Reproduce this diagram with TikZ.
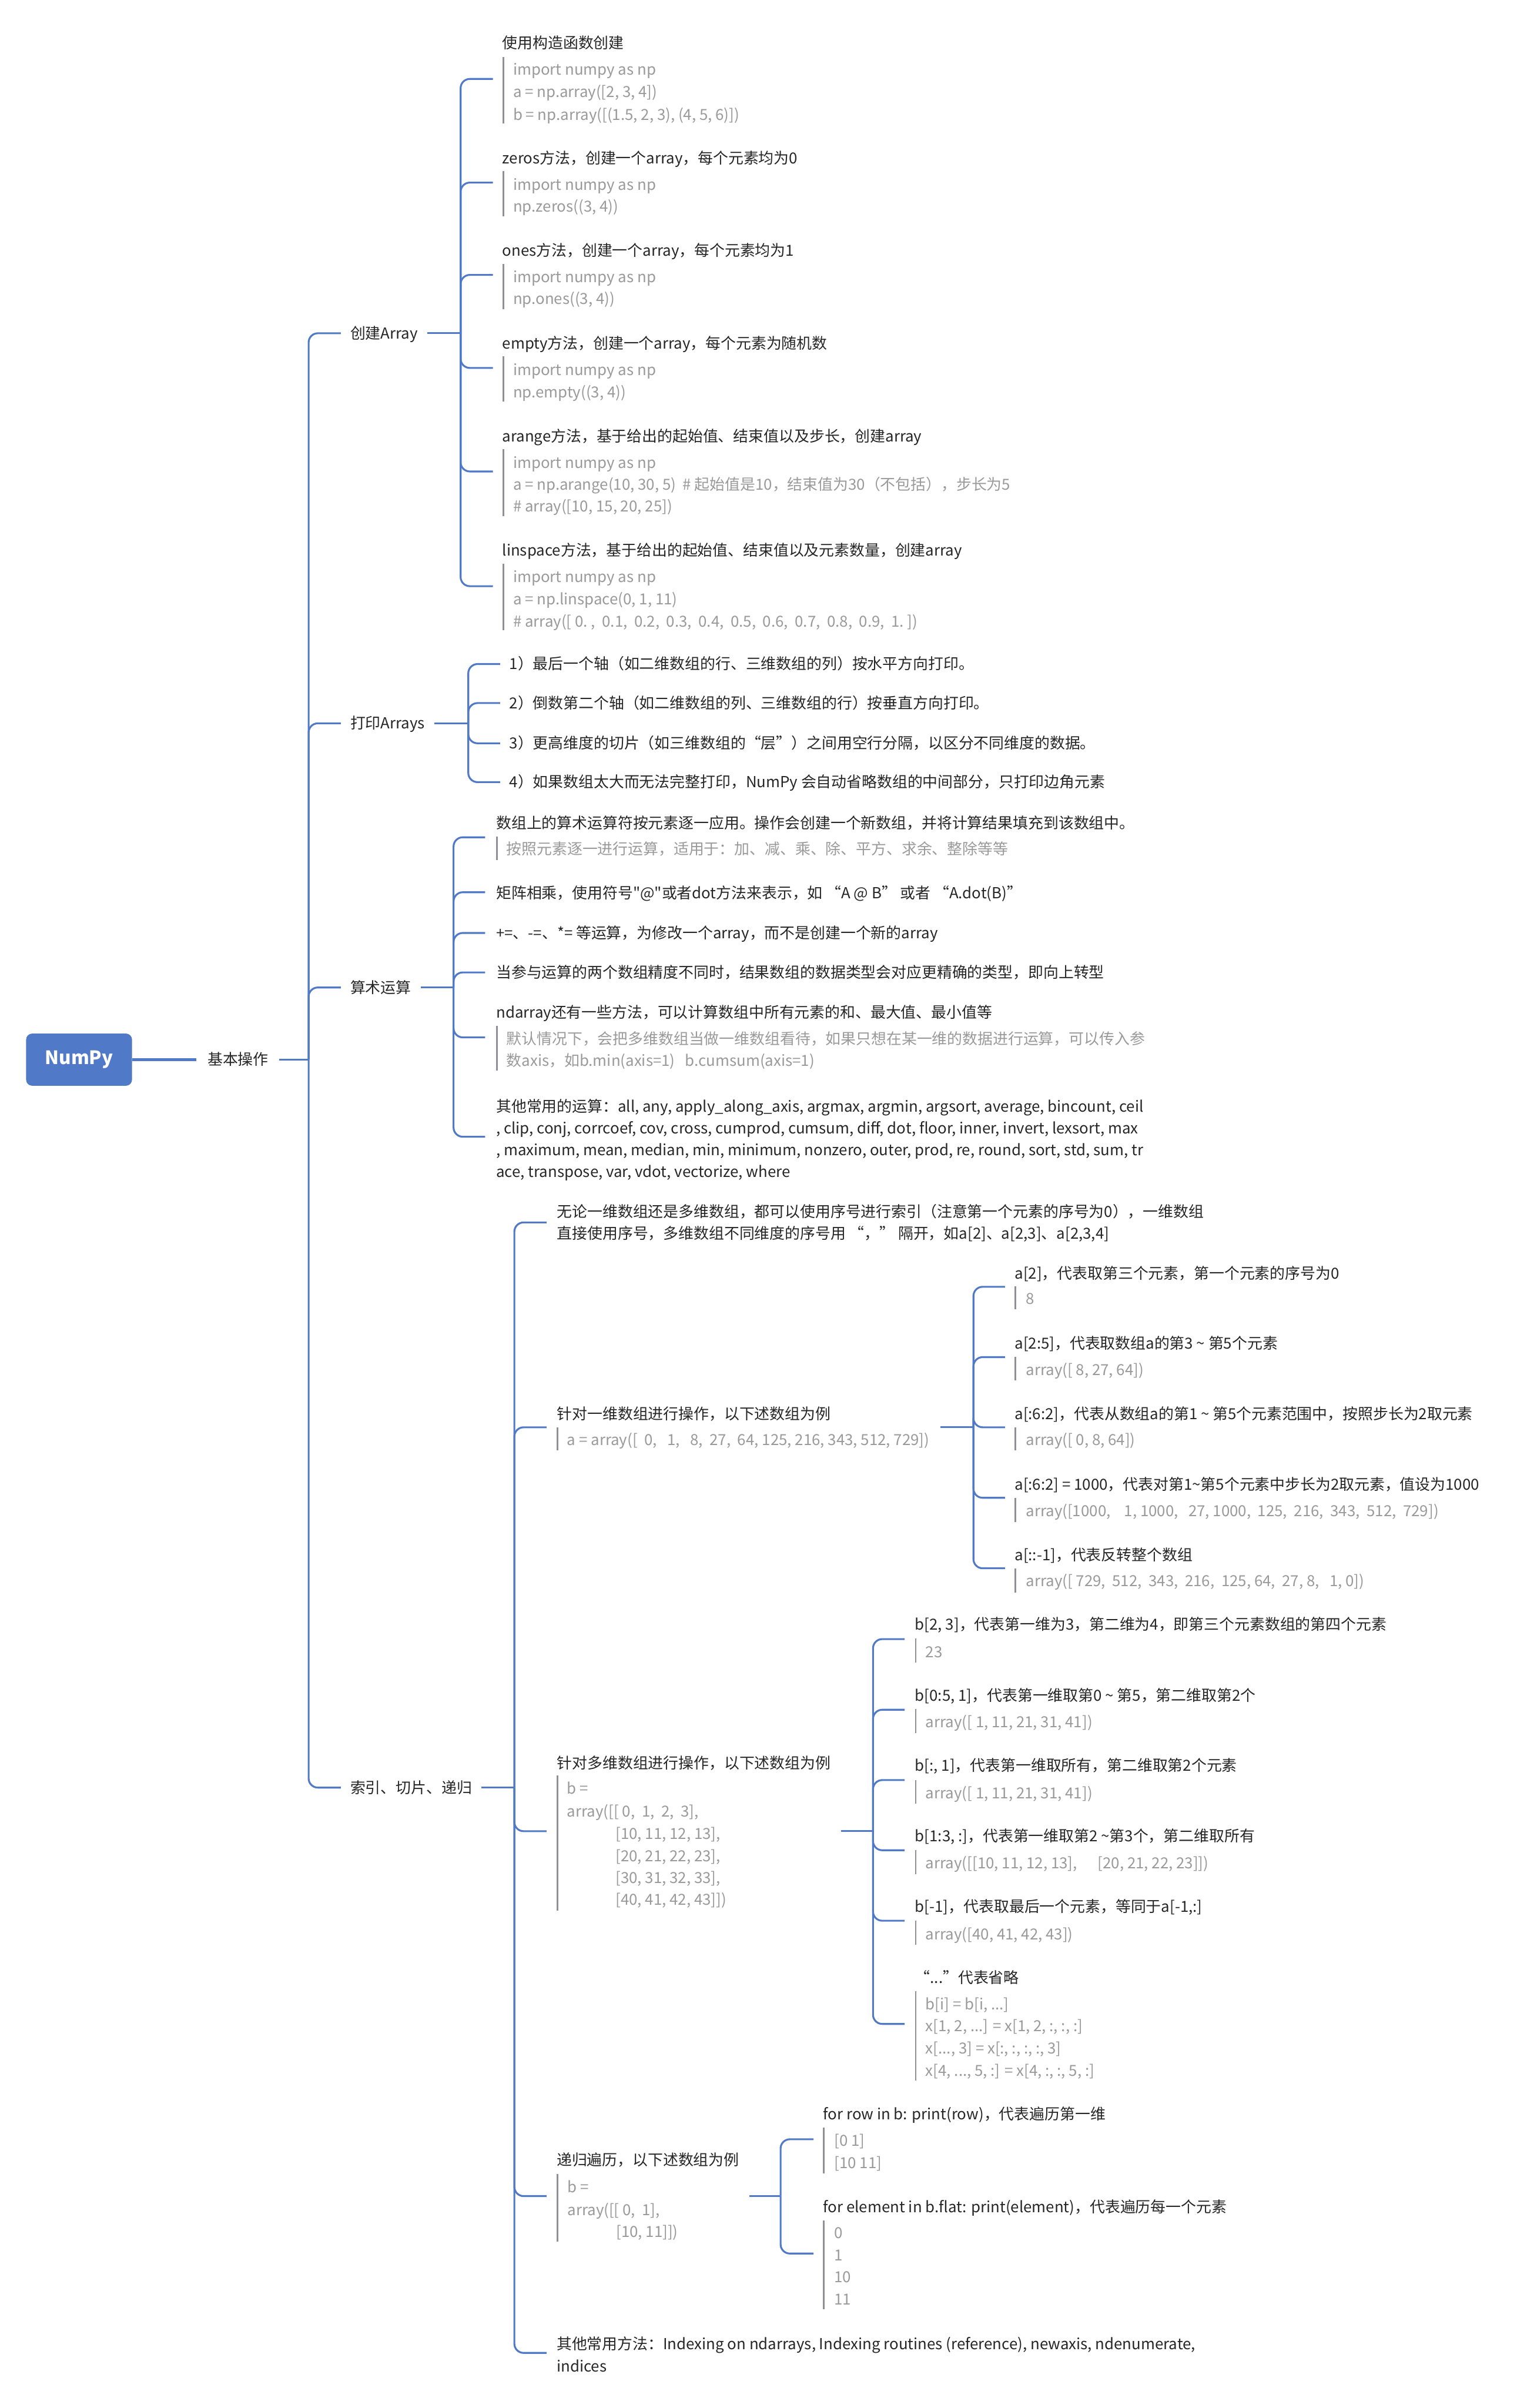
\documentclass[tikz,border=0pt]{standalone}
\usepackage{fontspec}
\newfontfamily\cjkf{Noto Sans CJK SC}
\usetikzlibrary{calc}
\definecolor{bl}{HTML}{5079C8}
\definecolor{tx}{HTML}{262626}
\definecolor{gy}{HTML}{9A9A9A}
\definecolor{vbc}{HTML}{8F9096}
\newcommand\mt[4]{\node[mtext] (#1) at (#2,#3+3.6) {#4};}
\newcommand\gt[4]{\node[gtext] (#1) at (#2,#3+3.6) {#4};}
\newcommand\vb[3]{\draw[vbar] (#1,#2) -- (#1,#3);}
\newcommand\stub[4]{\coordinate (#2) at (#3,#4); \draw[br] (#1) |- (#2);}
\begin{document}
\begin{tikzpicture}[x=1pt,y=-1pt,
  mtext/.style={font=\cjkf\fontsize{9.9pt}{12pt}\selectfont, text=tx, inner sep=0pt, anchor=base west},
  gtext/.style={mtext, text=gy},
  br/.style={draw=bl, line width=1.2pt, rounded corners=6pt},
  rootl/.style={draw=bl, line width=1.7pt},
  vbar/.style={draw=vbc, line width=1pt}]
\useasboundingbox (0,0) rectangle (988,1568);
\fill[white] (0,0) rectangle (988,1568);

% root
\node[fill=bl, rounded corners=4pt, minimum width=69pt, minimum height=34pt, inner sep=0pt, text=white,
  font=\cjkf\fontsize{12pt}{14pt}\selectfont\bfseries] (numpy) at (51.5,690) {NumPy};
\mt{basic}{135}{690}{基本操作}
\draw[rootl] (numpy.east) -- ($(basic.base west)+(-7,-3.6)$);
\coordinate (T1) at (201,690);
\draw[br] ($(basic.base east)+(7,-3.6)$) -- (T1);

\mt{create}{228}{217}{创建Array}
\mt{print}{228}{471}{打印Arrays}
\mt{arith}{228}{643}{算术运算}
\mt{index}{228}{1164}{索引、切片、递归}
\draw[br] (T1) |- ($(create.base west)+(-6,-3.6)$);
\draw[br] (T1) |- ($(print.base west)+(-6,-3.6)$);
\draw[br] (T1) |- ($(arith.base west)+(-6,-3.6)$);
\draw[br] (T1) |- ($(index.base west)+(-6,-3.6)$);

% ---------- section 1
\coordinate (T2) at (300,217);
\draw[br] ($(create.base east)+(6,-3.6)$) -- (T2);
\stub{T2}{c11}{321}{51.4}
\mt{h11}{327}{28}{使用构造函数创建}
\vb{327.8}{37}{80.5}
\gt{g11a}{334}{45.3}{import numpy as np}
\gt{g11b}{334}{59.9}{a = np.array([2, 3, 4])}
\gt{g11c}{334}{74.5}{b = np.array([(1.5, 2, 3), (4, 5, 6)])}

\stub{T2}{c12}{321}{118.9}
\mt{h12}{327}{103.1}{zeros方法，创建一个array，每个元素均为0}
\vb{327.8}{111.3}{141}
\gt{g12a}{334}{120.2}{import numpy as np}
\gt{g12b}{334}{134.4}{np.zeros((3, 4))}

\stub{T2}{c13}{321}{179}
\mt{h13}{327}{163.3}{ones方法，创建一个array，每个元素均为1}
\vb{327.8}{171.7}{201.4}
\gt{g13a}{334}{180.5}{import numpy as np}
\gt{g13b}{334}{194.6}{np.ones((3, 4))}

\stub{T2}{c14}{321}{239.6}
\mt{h14}{327}{223.6}{empty方法，创建一个array，每个元素为随机数}
\vb{327.8}{232}{261.5}
\gt{g14a}{334}{241}{import numpy as np}
\gt{g14b}{334}{255.2}{np.empty((3, 4))}

\stub{T2}{c15}{321}{307}
\mt{h15}{327}{284}{arange方法，基于给出的起始值、结束值以及步长，创建array}
\vb{327.8}{292.5}{336}
\gt{g15a}{334}{301.4}{import numpy as np}
\gt{g15b}{334}{315.6}{a = np.arange(10, 30, 5)~~\# 起始值是10，结束值为30（不包括），步长为5}
\gt{g15c}{334}{329.8}{\# array([10, 15, 20, 25])}

\stub{T2}{c16}{321}{381.7}
\mt{h16}{327}{358.5}{linspace方法，基于给出的起始值、结束值以及元素数量，创建array}
\vb{327.8}{367}{410.5}
\gt{g16a}{334}{375.7}{import numpy as np}
\gt{g16b}{334}{390}{a = np.linspace(0, 1, 11)}
\gt{g16c}{334}{404.5}{\# array([~0.~,~~0.1,~~0.2,~~0.3,~~0.4,~~0.5,~~0.6,~~0.7,~~0.8,~~0.9,~~1.~])}

% ---------- section 2
\coordinate (T3) at (305,471);
\draw[br] ($(print.base east)+(6,-3.6)$) -- (T3);
\stub{T3}{c21}{325.7}{432.4}
\mt{p1}{331.6}{432.4}{1）最后一个轴（如二维数组的行、三维数组的列）按水平方向打印。}
\stub{T3}{c22}{325.7}{457.8}
\mt{p2}{331.6}{457.8}{2）倒数第二个轴（如二维数组的列、三维数组的行）按垂直方向打印。}
\stub{T3}{c23}{325.7}{484}
\mt{p3}{331.6}{484}{3）更高维度的切片（如三维数组的“层”）之间用空行分隔，以区分不同维度的数据。}
\stub{T3}{c24}{325.7}{509.3}
\mt{p4}{331.6}{509.3}{4）如果数组太大而无法完整打印，NumPy 会自动省略数组的中间部分，只打印边角元素}

% ---------- section 3
\coordinate (T4) at (295.4,643);
\draw[br] ($(arith.base east)+(6,-3.6)$) -- (T4);
\stub{T4}{c31}{316}{545.2}
\mt{h31}{323}{536}{数组上的算术运算符按元素逐一应用。操作会创建一个新数组，并将计算结果填充到该数组中。}
\vb{323.6}{544.7}{560}
\gt{g31}{329.7}{553}{按照元素逐一进行运算，适用于：加、减、乘、除、平方、求余、整除等等}
\stub{T4}{c32}{316}{581}
\mt{h32}{323}{581.7}{矩阵相乘，使用符号"@"或者dot方法来表示，如 “A @ B” 或者 “A.dot(B)”}
\stub{T4}{c33}{316}{607.5}
\mt{h33}{323}{607.7}{+=、-=、*= 等运算，为修改一个array，而不是创建一个新的array}
\stub{T4}{c34}{316}{633.2}
\mt{h34}{323}{633.2}{当参与运算的两个数组精度不同时，结果数组的数据类型会对应更精确的类型，即向上转型}
\stub{T4}{c35}{316}{675.5}
\mt{h35}{323}{659.2}{ndarray还有一些方法，可以计算数组中所有元素的和、最大值、最小值等}
\vb{323.6}{668}{697}
\gt{g35a}{329.7}{676.4}{默认情况下，会把多维数组当做一维数组看待，如果只想在某一维的数据进行运算，可以传入参}
\gt{g35b}{329.7}{690.6}{数axis，如b.min(axis=1)~~~b.cumsum(axis=1)}
\stub{T4}{c36}{316}{740.2}
\mt{h36a}{323}{720.3}{其他常用的运算：all, any, apply\_along\_axis, argmax, argmin, argsort, average, bincount, ceil}
\mt{h36b}{323}{734.5}{, clip, conj, corrcoef, cov, cross, cumprod, cumsum, diff, dot, floor, inner, invert, lexsort, max}
\mt{h36c}{323}{748.7}{, maximum, mean, median, min, minimum, nonzero, outer, prod, re, round, sort, std, sum, tr}
\mt{h36d}{323}{762.9}{ace, transpose, var, vdot, vectorize, where}

% ---------- section 4
\coordinate (T5) at (335,1164);
\draw[br] ($(index.base east)+(6,-3.6)$) -- (T5);
\stub{T5}{c41}{356}{796}
\mt{h41a}{362.6}{789}{无论一维数组还是多维数组，都可以使用序号进行索引（注意第一个元素的序号为0），一维数组}
\mt{h41b}{362.6}{803.2}{直接使用序号，多维数组不同维度的序号用 “，” 隔开，如a[2]、a[2,3]、a[2,3,4]}

% 1D
\stub{T5}{c42}{356}{929.4}
\mt{h42}{362.6}{920.5}{针对一维数组进行操作，以下述数组为例}
\vb{363.2}{929.4}{944.5}
\gt{g42}{369.2}{937.5}{a = array([~~0,~~~1,~~~8,~~27,~~64, 125, 216, 343, 512, 729])}
\coordinate (T6) at (634,929.4);
\coordinate (o42) at ($(g42.base east)+(7,0)$);
\draw[br] (o42 |- T6) -- (T6);
\stub{T6}{c61}{654.6}{837.9}
\mt{h61}{660.7}{829.2}{a[2]，代表取第三个元素，第一个元素的序号为0}
\vb{661.3}{837.5}{852.6}
\gt{g61}{668}{845.8}{8}
\stub{T6}{c62}{654.6}{883.7}
\mt{h62}{660.7}{874.9}{a[2:5]，代表取数组a的第3 \textasciitilde{} 第5个元素}
\vb{661.3}{883.5}{899}
\gt{g62}{668}{892}{array([ 8, 27, 64])}
\stub{T6}{c63}{654.6}{929.4}
\mt{h63}{660.7}{920.5}{a[:6:2]，代表从数组a的第1 \textasciitilde{} 第5个元素范围中，按照步长为2取元素}
\vb{661.3}{929.4}{944.5}
\gt{g63}{668}{937.5}{array([ 0, 8, 64])}
\stub{T6}{c64}{654.6}{975.3}
\mt{h64}{660.7}{966.7}{a[:6:2] = 1000，代表对第1\textasciitilde{}第5个元素中步长为2取元素，值设为1000}
\vb{661.3}{975.5}{991}
\gt{g64}{668}{983.8}{array([1000,~~~~1, 1000,~~~27, 1000,~~125,~~216,~~343,~~512,~~729])}
\stub{T6}{c65}{654.6}{1021.2}
\mt{h65}{660.7}{1012.5}{a[::-1]，代表反转整个数组}
\vb{661.3}{1021.2}{1037}
\gt{g65}{668}{1029.4}{array([ 729,~~512,~~343,~~216,~~125, 64,~~27, 8,~~~1, 0])}

% 2D
\stub{T5}{c43}{356}{1192.4}
\mt{h43}{362.6}{1148}{针对多维数组进行操作，以下述数组为例}
\vb{363.2}{1156}{1244}
\gt{g43a}{369.2}{1164.4}{b =}
\gt{g43b}{369.2}{1179.6}{array([[ 0,~~1,~~2,~~3],}
\gt{g43c}{400.7}{1194.2}{[10, 11, 12, 13],}
\gt{g43d}{400.7}{1208.6}{[20, 21, 22, 23],}
\gt{g43e}{400.7}{1222.8}{[30, 31, 32, 33],}
\gt{g43f}{400.7}{1236.8}{[40, 41, 42, 43]])}
\coordinate (T7) at (568.6,1192.4);
\coordinate (o43) at ($(h43.base east)+(6.5,0)$);
\draw[br] (o43 |- T7) -- (T7);
\stub{T7}{c71}{589.2}{1067.3}
\mt{h71}{595.8}{1057.8}{b[2, 3]，代表第一维为3，第二维为4，即第三个元素数组的第四个元素}
\vb{596.4}{1067}{1082.5}
\gt{g71}{602.7}{1075.6}{23}
\stub{T7}{c72}{589.2}{1113.3}
\mt{h72}{595.8}{1104.1}{b[0:5, 1]，代表第一维取第0 \textasciitilde{} 第5，第二维取第2个}
\vb{596.4}{1113}{1128.5}
\gt{g72}{602.7}{1121.2}{array([ 1, 11, 21, 31, 41])}
\stub{T7}{c73}{589.2}{1159.1}
\mt{h73}{595.8}{1149.7}{b[:, 1]，代表第一维取所有，第二维取第2个元素}
\vb{596.4}{1159}{1174.5}
\gt{g73}{602.7}{1167.5}{array([ 1, 11, 21, 31, 41])}
\stub{T7}{c74}{589.2}{1204.8}
\mt{h74}{595.8}{1195.6}{b[1:3, :]，代表第一维取第2 \textasciitilde{}第3个，第二维取所有}
\vb{596.4}{1204.8}{1220.3}
\gt{g74}{602.7}{1213.3}{array([[10, 11, 12, 13],~~~~~~[20, 21, 22, 23]])}
\stub{T7}{c75}{589.2}{1250.7}
\mt{h75}{595.8}{1241.5}{b[-1]，代表取最后一个元素，等同于a[-1,:]}
\vb{596.4}{1250.7}{1266.3}
\gt{g75}{602.7}{1259.3}{array([40, 41, 42, 43])}
\stub{T7}{c76}{589.2}{1317.9}
\mt{h76}{595.8}{1287.7}{“...”代表省略}
\vb{596.4}{1296.5}{1354.6}
\gt{g76a}{602.7}{1304.9}{b[i] = b[i, ...]}
\gt{g76b}{602.7}{1319.1}{x[1, 2, ...] = x[1, 2, :, :, :]}
\gt{g76c}{602.7}{1333.9}{x[..., 3] = x[:, :, :, :, 3]}
\gt{g76d}{602.7}{1348.1}{x[4, ..., 5, :] = x[4, :, :, 5, :]}

% recursion
\stub{T5}{c44}{356}{1430}
\mt{h44}{362.4}{1406.5}{递归遍历，以下述数组为例}
\vb{363}{1415.5}{1459.5}
\gt{g44a}{369.4}{1424}{b =}
\gt{g44b}{369.4}{1439}{array([[ 0,~~1],}
\gt{g44c}{401.1}{1453.2}{[10, 11]])}
\coordinate (T8) at (508.4,1430);
\coordinate (o44) at ($(h44.base east)+(6.5,0)$);
\draw[br] (o44 |- T8) -- (T8);
\stub{T8}{c81}{529.9}{1393}
\mt{h81}{536}{1376.7}{for row in b: print(row)，代表遍历第一维}
\vb{536.6}{1385.4}{1415.1}
\gt{g81a}{543.2}{1394}{[0 1]}
\gt{g81b}{543.2}{1408.2}{[10 11]}
\stub{T8}{c82}{529.9}{1467.4}
\mt{h82}{536}{1437.1}{for element in b.flat: print(element)，代表遍历每一个元素}
\vb{536.6}{1446}{1503.8}
\gt{g82a}{543.2}{1453.8}{0}
\gt{g82b}{543.2}{1468.3}{1}
\gt{g82c}{543.2}{1482.8}{10}
\gt{g82d}{543.2}{1497.3}{11}

\stub{T5}{c45}{356}{1532.1}
\mt{h45a}{362.4}{1526.2}{其他常用方法：Indexing on ndarrays, Indexing routines (reference), newaxis, ndenumerate,}
\mt{h45b}{362.4}{1540.7}{indices}
\end{tikzpicture}
\end{document}
